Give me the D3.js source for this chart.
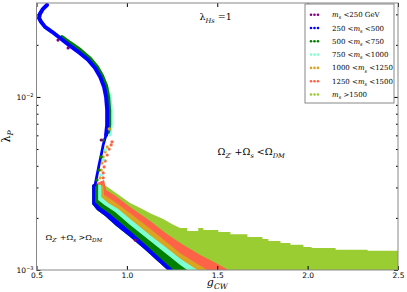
<!DOCTYPE html>
<html>
<head>
<meta charset="utf-8">
<script src="https://cdn.jsdelivr.net/npm/d3@7"></script>
<style>
body { margin: 0; background: #fff; }
</style>
</head>
<body>
<div id="viz"></div>
<script>
// colours of the mass bins, same order as the legend
const seriesColors = ["purple", "blue", "green", "aquamarine", "goldenrod", "tomato", "yellowgreen"];
const legendLabels = [
  [["m", 0, 1], ["s", -1, 1], [" <250 GeV", 0, 0]],
  [["250 <", 0, 0], ["m", 0, 1], ["s", -1, 1], [" <500", 0, 0]],
  [["500 <", 0, 0], ["m", 0, 1], ["s", -1, 1], [" <750", 0, 0]],
  [["750 <", 0, 0], ["m", 0, 1], ["s", -1, 1], [" <1000", 0, 0]],
  [["1000 <", 0, 0], ["m", 0, 1], ["s", -1, 1], [" <1250", 0, 0]],
  [["1250 <", 0, 0], ["m", 0, 1], ["s", -1, 1], [" <1500", 0, 0]],
  [["m", 0, 1], ["s", -1, 1], [" >1500", 0, 0]]
];

const xTicks = [0.5, 1.0, 1.5, 2.0, 2.5];
const yMajor = [1e-3, 1e-2];
const yMinor = [2e-3, 3e-3, 4e-3, 5e-3, 6e-3, 7e-3, 8e-3, 9e-3, 2e-2, 3e-2];

// edges of the fan (g_CW, lambda_P)
const fanBlueLow = [[0.808,3.10e-3],[0.808,2.41e-3],[0.835,2.22e-3],[0.880,2.05e-3],[0.935,1.82e-3],[1.018,1.55e-3],[1.101,1.31e-3],[1.168,1.13e-3],[1.225,1.00e-3],[1.280,0.88e-3]];
const fanBlue = [[0.824,3.18e-3],[0.824,2.47e-3],[0.852,2.31e-3],[0.907,2.11e-3],[1.018,1.68e-3],[1.101,1.41e-3],[1.185,1.17e-3],[1.257,1.00e-3],[1.295,0.92e-3]];
const fanGreen = [[0.841,3.14e-3],[0.841,2.54e-3],[0.874,2.38e-3],[0.935,2.16e-3],[1.018,1.82e-3],[1.129,1.47e-3],[1.240,1.19e-3],[1.295,1.07e-3],[1.334,1.00e-3],[1.379,0.93e-3]];
const fanAqua = [[0.858,3.10e-3],[0.858,2.64e-3],[0.896,2.44e-3],[0.952,2.25e-3],[1.018,1.97e-3],[1.129,1.59e-3],[1.240,1.29e-3],[1.295,1.16e-3],[1.390,1.00e-3],[1.434,0.93e-3]];
const fanGold = [[0.869,3.18e-3],[0.874,2.71e-3],[0.918,2.54e-3],[1.018,2.13e-3],[1.129,1.73e-3],[1.212,1.47e-3],[1.295,1.25e-3],[1.379,1.10e-3],[1.445,1.00e-3],[1.490,0.93e-3]];
const fanTomato = [[0.874,3.31e-3],[0.885,2.90e-3],[0.930,2.71e-3],[1.018,2.31e-3],[1.129,1.92e-3],[1.212,1.64e-3],[1.295,1.43e-3],[1.406,1.22e-3],[1.490,1.10e-3],[1.562,1.00e-3],[1.606,0.93e-3]];
const fanYellowgreen = [[0.885,3.06e-3],[0.924,2.86e-3],[0.963,2.68e-3],[1.018,2.44e-3],[1.074,2.28e-3],[1.129,2.13e-3],[1.201,1.97e-3],[1.251,1.84e-3],[1.295,1.75e-3],
  [1.334,1.75e-3],[1.334,1.68e-3],[1.395,1.68e-3],[1.395,1.75e-3],[1.423,1.75e-3],[1.423,1.70e-3],[1.506,1.70e-3],[1.506,1.66e-3],[1.573,1.66e-3],[1.573,1.61e-3],
  [1.667,1.61e-3],[1.667,1.55e-3],[1.750,1.55e-3],[1.750,1.51e-3],[1.783,1.51e-3],[1.783,1.47e-3],[1.850,1.47e-3],[1.850,1.43e-3],[1.905,1.43e-3],[1.905,1.40e-3],
  [1.977,1.40e-3],[1.977,1.36e-3],[2.022,1.36e-3],[2.022,1.34e-3],[2.155,1.34e-3],[2.155,1.31e-3],[2.332,1.31e-3],[2.332,1.29e-3],[2.5,1.29e-3],[2.5,0.90e-3]];

// the narrow upper branch, dense part then sparse part
const stemBlue = [[0.558,0.0340],[0.536,0.0323],[0.519,0.0302],[0.514,0.0286],[0.525,0.0272],[0.547,0.0254],[0.586,0.0238],[0.630,0.0219],[0.686,0.0197],[0.741,0.0179],[0.785,0.0164],[0.824,0.0147],[0.852,0.0131],[0.874,0.0114],[0.885,0.0100],[0.891,0.00841],[0.891,0.00689],[0.885,0.00603]];
const stemBlueLow = [[0.885,0.00603],[0.869,0.00528],[0.858,0.00462],[0.846,0.00404],[0.835,0.00354],[0.824,0.00310]];
const stemGreen = [[0.641,0.0222],[0.686,0.0205],[0.741,0.0187],[0.797,0.0166],[0.835,0.0149],[0.863,0.0132],[0.885,0.0116],[0.896,0.0100],[0.902,0.00841],[0.902,0.00689],[0.896,0.00628]];
const stemAqua = [[0.869,0.01253],[0.891,0.01127],[0.907,0.0100],[0.913,0.00841],[0.913,0.00689],[0.907,0.00603]];

// loose points below the branch
const dotsTomato = [[0.918,0.00550],[0.913,0.00528],[0.902,0.00500],[0.891,0.00462],[0.880,0.00427],[0.874,0.00394],[0.869,0.00364],[0.869,0.00341],[0.863,0.00314]];
const dotsGold = [[0.902,0.00653],[0.891,0.00514],[0.880,0.00481],[0.869,0.00450],[0.863,0.00415],[0.858,0.00378],[0.852,0.00341]];
const dotsGreen = [[0.869,0.00564],[0.858,0.00450],[0.846,0.00378],[0.835,0.00331]];
const dotsAqua = [[0.880,0.00494],[0.869,0.00433],[0.858,0.00354]];
const dotsPurple = [[0.619,0.0213],[0.675,0.0192],[0.858,0.00564],[1.046,0.00149]];

const margin = {top: 3, right: 9, bottom: 22, left: 36.5},
  width = 407 - margin.left - margin.right,
  height = 292 - margin.top - margin.bottom;

const svg = d3.select("#viz").append("svg")
  .attr("width", 407).attr("height", 292)
  .append("g")
  .attr("transform", `translate(${margin.left},${margin.top})`);

const x = d3.scaleLinear().domain([0.5, 2.5]).range([0, width]);
const y = d3.scaleLog().domain([1e-3, 0.0349]).range([height, 0]);

svg.append("clipPath").attr("id", "clip")
  .append("rect").attr("width", width).attr("height", height);

const plot = svg.append("g").attr("clip-path", "url(#clip)");
const line = d3.line().x(d => x(d[0])).y(d => y(d[1]));

// fan: every band runs from its own top edge down to the outer blue edge
const fanTops = [fanYellowgreen, fanTomato, fanGold, fanAqua, fanGreen, fanBlue];
const fanCols = ["yellowgreen", "tomato", "goldenrod", "aquamarine", "green", "blue"];
fanTops.forEach((top, i) => {
  plot.append("path")
    .attr("d", line(top.concat(fanBlueLow.slice().reverse())) + "Z")
    .attr("fill", fanCols[i]);
});

// upper branch
[[stemAqua, "aquamarine", 3], [stemGreen, "green", 4], [stemBlue, "blue", 4], [stemBlueLow, "blue", 2.8]].forEach(([pts, c, w]) => {
  plot.append("path").attr("d", line(pts))
    .attr("fill", "none").attr("stroke", c).attr("stroke-width", w)
    .attr("stroke-linejoin", "round").attr("stroke-linecap", "round");
});

[[dotsGold, "goldenrod"], [dotsTomato, "tomato"], [dotsGreen, "green"], [dotsAqua, "aquamarine"], [dotsPurple, "purple"]].forEach(([pts, c]) => {
  plot.selectAll(null).data(pts).join("circle")
    .attr("cx", d => x(d[0])).attr("cy", d => y(d[1]))
    .attr("r", 1.6).attr("fill", c);
});

// axes, ticks pointing inwards on all four sides
const tickStyle = g => {
  g.select(".domain").remove();
  g.selectAll("line").attr("stroke", "#000");
  g.selectAll("text").style("font-family", "DejaVu Sans").style("font-size", "7.5px").attr("fill", "#000");
};
svg.append("g").attr("transform", `translate(0,${height})`)
  .call(d3.axisBottom(x).tickValues(xTicks).tickSize(-4).tickPadding(3).tickFormat(d3.format(".1f")))
  .call(tickStyle);
svg.append("g")
  .call(d3.axisTop(x).tickValues(xTicks).tickSize(-4).tickFormat(""))
  .call(tickStyle);
svg.append("g")
  .call(d3.axisLeft(y).tickValues(yMajor).tickSize(-4).tickFormat(""))
  .call(tickStyle);
svg.append("g")
  .call(d3.axisLeft(y).tickValues(yMinor).tickSize(-2).tickFormat(""))
  .call(tickStyle);
svg.append("g").attr("transform", `translate(${width},0)`)
  .call(d3.axisRight(y).tickValues(yMajor).tickSize(-4).tickFormat(""))
  .call(tickStyle);
svg.append("g").attr("transform", `translate(${width},0)`)
  .call(d3.axisRight(y).tickValues(yMinor).tickSize(-2).tickFormat(""))
  .call(tickStyle);

svg.append("rect").attr("width", width).attr("height", height)
  .attr("fill", "none").attr("stroke", "#888").attr("stroke-width", 1);

// 10^n labels
yMajor.forEach(v => {
  const t = svg.append("text").attr("x", -3).attr("y", y(v) + 3)
    .attr("text-anchor", "end")
    .style("font-family", "DejaVu Sans").style("font-size", "7.5px");
  t.append("tspan").text("10");
  t.append("tspan").attr("dy", -3).style("font-size", "5px").text("\u2212" + Math.round(-Math.log10(v)));
});

// maths style text helper: parts are [text, -1 sub / 0 / 1 sup, italic]
function mathText(parent, px, py, size, parts, anchor) {
  const t = parent.append("text").attr("x", px).attr("y", py)
    .attr("text-anchor", anchor || "start")
    .style("font-family", "DejaVu Serif").style("font-size", size + "px").attr("fill", "#000");
  let shift = 0;
  parts.forEach(([str, mode, ital]) => {
    const target = mode < 0 ? size * 0.3 : mode > 0 ? -size * 0.45 : 0;
    t.append("tspan").attr("dy", target - shift)
      .style("font-size", (mode ? size * 0.7 : size) + "px")
      .style("font-style", ital ? "italic" : "normal")
      .text(str);
    shift = target;
  });
  return t;
}

mathText(svg, width / 2, height + 16, 11, [["g", 0, 1], ["CW", -1, 1]], "middle");
const yl = svg.append("g").attr("transform", `translate(${-27},${height / 2})rotate(-90)`);
mathText(yl, 0, 0, 11, [["\u03bb", 0, 0], ["P", -1, 1]], "middle");

mathText(svg, 163, 17, 9.5, [["\u03bb", 0, 0], ["Hs", -1, 1], [" =1", 0, 0]]);
mathText(svg, 181, 152, 9.5, [["\u03a9", 0, 0], ["Z\u2032", -1, 1], [" +\u03a9", 0, 0], ["s", -1, 1], [" <\u03a9", 0, 0], ["DM", -1, 1]]);
mathText(svg, 9, 237, 8, [["\u03a9", 0, 0], ["Z\u2032", -1, 1], [" +\u03a9", 0, 0], ["s", -1, 1], [" >\u03a9", 0, 0], ["DM", -1, 1]]);

// legend
const lg = svg.append("g").attr("transform", `translate(${305 - margin.left},${4 - margin.top})`);
lg.append("rect").attr("width", 89).attr("height", 99)
  .attr("fill", "#fff").attr("stroke", "#888").attr("stroke-width", 1);
legendLabels.forEach((lab, i) => {
  const cy = 10.7 + i * 13.3;
  [6, 9.5, 13].forEach(cx => {
    lg.append("circle").attr("cx", cx).attr("cy", cy).attr("r", 1.3).attr("fill", seriesColors[i]);
  });
  mathText(lg, 27, cy + 2.5, 7, lab);
});
</script>
</body>
</html>
